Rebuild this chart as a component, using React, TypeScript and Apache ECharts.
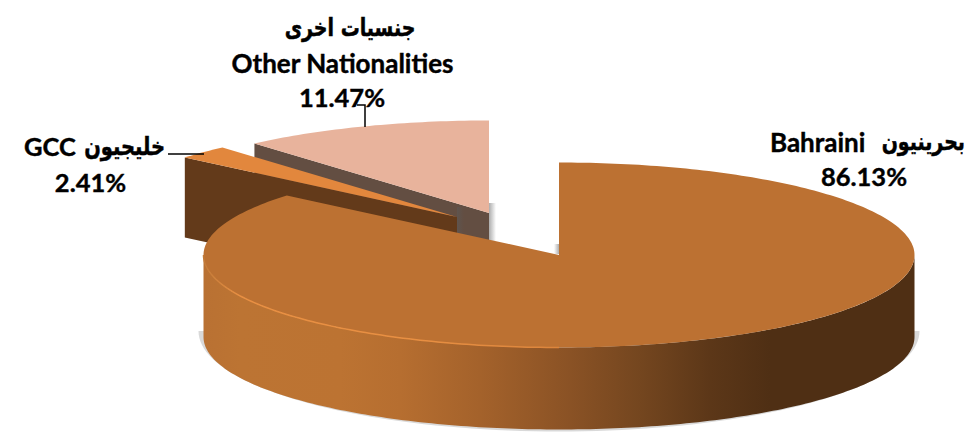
import React, { useEffect, useRef } from "react";
import * as echarts from "echarts";

const namesEn = ["Bahraini", "GCC", "Other Nationalities"];
const namesAr = ["بحرينيون", "خليجيون", "جنسيات اخرى"];
const shares = [86.13, 2.41, 11.47];
const topColors = ["#BC7132", "#E2873D", "#E8B39C"];
const cutColors = ["#BC7132", "#633A1A", "#634E42"];

const W = 969;
const H = 432;
const RX = 355.5;
const RY = 92.5;
const DEPTH = 82;
// exploded centres of the three slices, in page pixels
const centres: [number, number][] = [
  [559, 255],
  [457, 217],
  [489, 213],
];
const layerOrder = [3, 2, 1];

const total = shares.reduce((a, b) => a + b, 0);
const rad = (d: number) => (d * Math.PI) / 180;
const rim = (c: [number, number], t: number, dy = 0): number[] => [
  c[0] + RX * Math.sin(rad(t)),
  c[1] - RY * Math.cos(rad(t)) + dy,
];
const arc = (c: [number, number], a: number, b: number, dy = 0) => {
  const pts: number[][] = [];
  const n = Math.max(2, Math.ceil(Math.abs(b - a)));
  for (let i = 0; i <= n; i++) pts.push(rim(c, a + ((b - a) * i) / n, dy));
  return pts;
};

const sideStops: [number, string][] = [
  [203, "#B97133"],
  [240, "#BC7433"],
  [340, "#BC7332"],
  [400, "#B66E30"],
  [480, "#A4622B"],
  [570, "#8A5225"],
  [640, "#74461F"],
  [710, "#5C3718"],
  [770, "#4F2F14"],
  [914, "#4F2F14"],
];

const shadowFill = (horizontal: boolean) =>
  new echarts.graphic.LinearGradient(0, 0, horizontal ? 1 : 0, horizontal ? 0 : 1, [
    { offset: 0, color: "rgba(90,90,90,0.5)" },
    { offset: 1, color: "rgba(90,90,90,0)" },
  ]);

function renderSlice(params: any) {
  const i = params.dataIndex;
  const before = shares.slice(0, i).reduce((a, b) => a + b, 0);
  const a = (before / total) * 360;
  const b = ((before + shares[i]) / total) * 360;
  const c = centres[i];
  const z2 = layerOrder[i] * 10;
  const children: any[] = [];

  if (a > 0) {
    // soft shadow beside the slice's inner edge
    children.push({
      type: "rect",
      z2: z2 - 1,
      shape: { x: c[0], y: c[1] - 10, width: 7, height: 38 },
      style: { fill: shadowFill(true) },
    });
    // cut face on the slice's starting edge
    children.push({
      type: "polygon",
      z2,
      shape: { points: [c, rim(c, a), rim(c, a, DEPTH - 2), [c[0], c[1] + DEPTH - 2]] },
      style: { fill: cutColors[i] },
    });
  } else {
    const from = Math.max(a, 90);
    const to = Math.min(b, 270);
    const x0 = c[0] - RX;
    // soft grey shadow under the wall
    const halo: number[][] = [];
    for (let t = 90; t <= 270; t += 2) {
      halo.push([
        c[0] + (RX + 5) * Math.sin(rad(t)),
        c[1] + DEPTH - 6 - (RY + 8) * Math.cos(rad(t)),
      ]);
    }
    children.push({
      type: "polygon",
      z2: z2 - 2,
      shape: { points: halo },
      style: { fill: "rgba(120,120,120,0.28)" },
    });
    children.push({
      type: "rect",
      z2: z2 - 1,
      shape: { x: c[0] - 5, y: c[1] - 11, width: 5, height: 10 },
      style: {
        fill: new echarts.graphic.LinearGradient(1, 0, 0, 0, [
          { offset: 0, color: "rgba(90,90,90,0.5)" },
          { offset: 1, color: "rgba(90,90,90,0)" },
        ]),
      },
    });
    // outer wall, front half of the ellipse
    const pts = arc(c, from, to).concat(arc(c, to, from, DEPTH));
    children.push({
      type: "polygon",
      z2,
      shape: { points: pts },
      style: {
        fill: new echarts.graphic.LinearGradient(
          0,
          0,
          1,
          0,
          sideStops.map(([x, color]) => ({ offset: (x - x0) / (2 * RX), color }))
        ),
      },
    });
  }

  // top face
  children.push({
    type: "polygon",
    z2: z2 + 1,
    shape: { points: [c, ...arc(c, a, b)] },
    style: { fill: topColors[i] },
  });

  // light rim along the front-left of the wall
  if (a === 0) {
    children.push({
      type: "polyline",
      z2: z2 + 2,
      shape: { points: arc(c, 180, 270) },
      style: {
        fill: "none",
        lineWidth: 1.5,
        stroke: new echarts.graphic.LinearGradient(0, 0, 1, 0, [
          { offset: 0, color: "#C27A38" },
          { offset: 0.1, color: "#E88F42" },
          { offset: 0.6, color: "#E88F42" },
          { offset: 1, color: "#DC853C" },
        ]),
      },
    });
  }
  return { type: "group", children };
}

const latin = "Lato, Carlito, 'Open Sans', sans-serif";
const arabic = "'DejaVu Sans', sans-serif";
const pct = (v: number) => `${v.toFixed(2)}%`;
const label = (
  text: string,
  x: number,
  y: number,
  align: string,
  font: string,
  size: number,
  scaleY = 1
) => ({
  type: "text",
  x,
  y,
  scaleY,
  silent: true,
  style: {
    text,
    fill: "#000",
    stroke: "#000",
    lineWidth: 0.4,
    font: `bold ${size}px ${font}`,
    align,
    verticalAlign: "middle",
  },
});
const leader = (points: number[][]) => ({
  type: "polyline",
  silent: true,
  z: 5,
  shape: { points },
  style: { fill: "none", stroke: "#000", lineWidth: 1.5 },
});

export default function App() {
  const ref = useRef<HTMLDivElement>(null);
  useEffect(() => {
    const chart = echarts.init(ref.current!, undefined, { renderer: "svg" });
    chart.setOption({
      animation: false,
      backgroundColor: "#fff",
      series: [
        {
          type: "custom",
          coordinateSystem: "none",
          silent: true,
          data: shares,
          renderItem: renderSlice,
        },
      ],
      graphic: [
        leader([[168, 154], [204, 154]]),
        leader([[357, 105], [365, 105], [365, 127]]),
        label(namesAr[2], 350, 28, "center", arabic, 19, 1.3),
        label(namesEn[2], 342.5, 63, "center", latin, 26),
        label(pct(shares[2]), 342, 97, "center", latin, 25.5),
        label(namesEn[1], 24, 146, "left", latin, 25.5),
        label(namesAr[1], 165, 146, "right", arabic, 19.5, 1.3),
        label(pct(shares[1]), 90.5, 182, "center", latin, 25.5),
        label(namesEn[0], 770, 142, "left", latin, 26),
        label(namesAr[0], 965, 142, "right", arabic, 19, 1.3),
        label(pct(shares[0]), 864, 176, "center", latin, 25.5),
      ],
    });
    return () => chart.dispose();
  }, []);
  return (
    <div
      ref={ref}
      style={{ position: "absolute", left: 0, top: 0, width: W, height: H }}
    />
  );
}
